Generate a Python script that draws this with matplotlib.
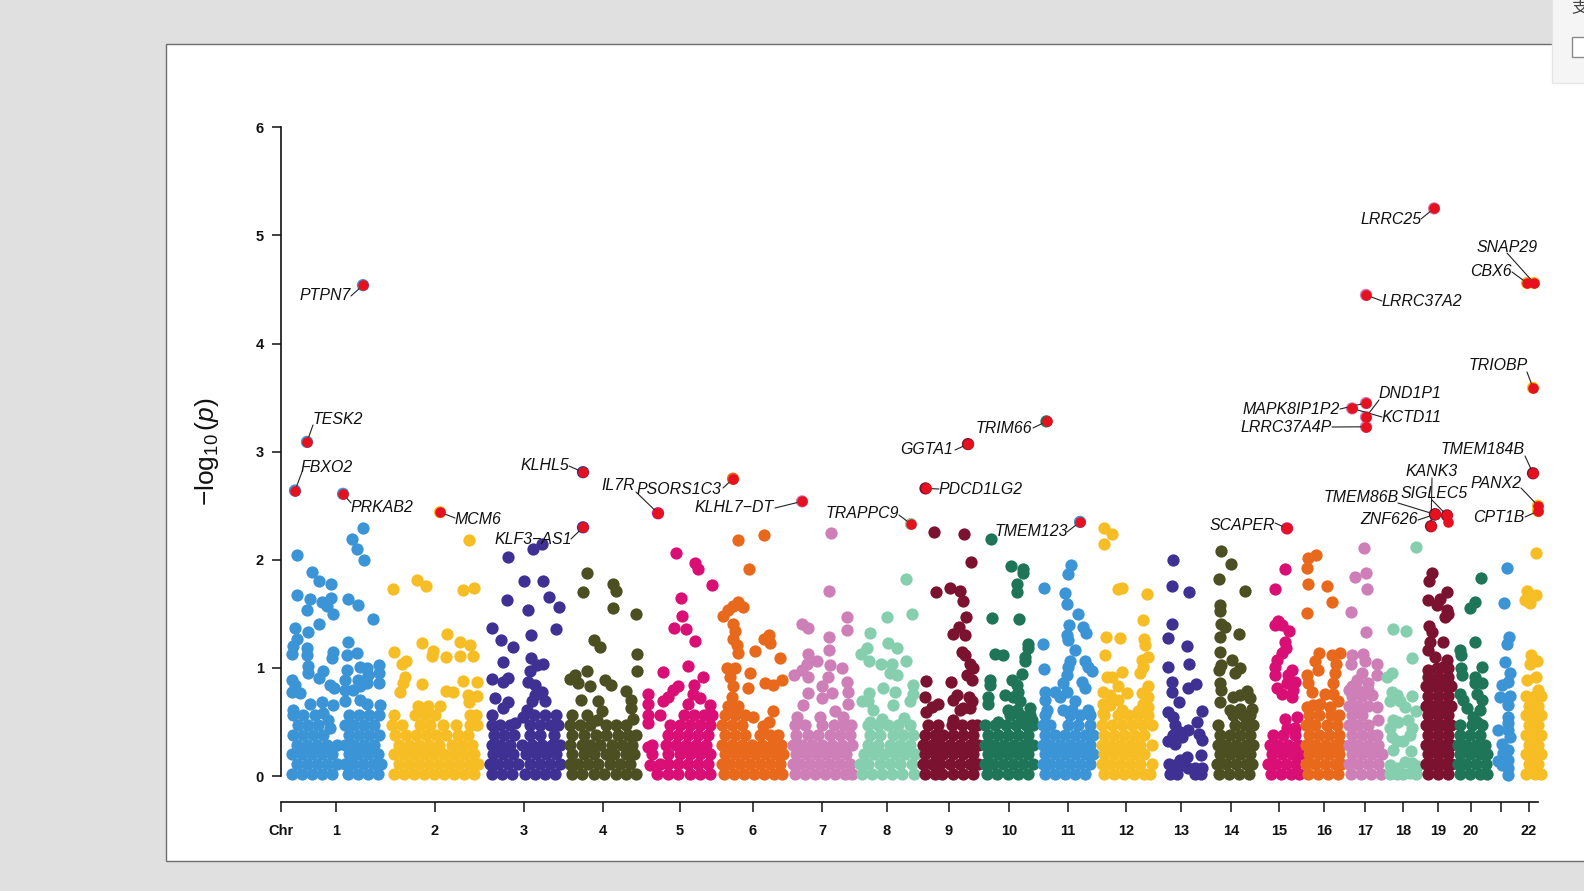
import matplotlib
matplotlib.use("Agg")
import matplotlib.pyplot as plt
from matplotlib.patches import Rectangle

W, H = 1584, 891
plt.rcParams['font.family'] = ['Liberation Sans', 'DejaVu Sans']
plt.rcParams['mathtext.fontset'] = 'custom'
plt.rcParams['mathtext.rm'] = 'Liberation Sans'
plt.rcParams['mathtext.it'] = 'Liberation Sans:italic'

# ---------------- data: (position, -log10 p) ----------------
chr1_pts = [(297,2.04),(312,1.89),(319,1.80),(331,1.78),(297,1.67),(310,1.64),(331,1.65),(322,1.61),(307,1.54),(327,1.57),(333,1.50),(319,1.41),(295,1.37),(308,1.33),(297,1.27),(293,1.20),(307,1.18),(292,1.13),(307,1.12),(308,1.02),(308,.95),(333,1.15),(332,1.09),(323,.97),(319,.91),(292,.89),(295,.84),(292,.78),(300,.77),(330,.84),(334,.81),(363,2.29),(352,2.19),(357,2.10),(364,2.00),(348,1.64),(358,1.58),(373,1.45),(348,1.24),(347,1.12),(357,1.14),(360,1.01),(367,1.00),(379,1.03),(347,.98),(379,.95),(368,.93),(379,.86),(345,.89),(358,.89),(367,.86),(345,.80),(353,.80),(360,.83),(310,.67),(322,.68),(333,.66),(293,.61),(380,.66),(323,.58),(328,.52),(330,.44),(345,.69),(360,.70),(367,.67)]
chr1_base = {.02:[292,302,312,322,332,348,358,368,378],.11:[297,307,317,327,337,345,353,363,373,381],.20:[292,302,312,322,332,349,358,368,378],.29:[297,307,317,327,337,345,354,364,374],.38:[293,303,313,323,349,359,369,379],.47:[298,308,318,345,354,364,374],.56:[293,303,315,349,359,369,379]}
chr2_pts = [(393,1.73),(417,1.81),(426,1.76),(463,1.72),(474,1.74),(469,2.18),(447,1.31),(422,1.23),(460,1.24),(470,1.21),(394,1.15),(433,1.16),(432,1.11),(446,1.10),(460,1.11),(473,1.11),(402,1.04),(406,1.06),(405,.92),(403,.86),(463,.88),(477,.87),(422,.85),(400,.78),(446,.79),(453,.78),(468,.75),(477,.74),(469,.68)]
chr2_base = {.02:[394,404,414,424,434,444,454,464,474],.11:[399,409,419,429,439,449,459,469,478],.20:[394,404,414,424,434,444,454,464,474],.29:[399,409,419,429,439,452,462,472],.38:[395,406,416,426,436,446,458,468],.47:[392,402,420,430,443,456,470,477],.56:[394,415,425,435,470,476],.65:[418,428,440]}
chr3_pts = [(508,2.03),(533,2.10),(542,2.15),(524,1.80),(543,1.80),(507,1.63),(549,1.66),(528,1.54),(559,1.56),(492,1.37),(556,1.36),(531,1.30),(501,1.26),(513,1.19),(531,1.09),(503,1.05),(543,1.04),(537,1.03),(530,.97),(492,.90),(508,.91),(503,.87),(528,.87),(535,.84),(542,.78),(535,.75),(495,.72),(545,.69),(508,.68),(532,.69),(503,.63),(527,.61),(523,.55),(515,.49)]
chr3_base = {.02:[492,502,512,525,535,545,555],.11:[490,498,508,518,530,540,550,560],.20:[493,503,513,526,536,546,556],.29:[492,500,510,522,532,542,552,560],.38:[494,504,514,530,540,554],.47:[492,500,510,530,540,550,558],.56:[492,534,545,556]}
chr4_pts = [(587,1.88),(583,1.70),(613,1.78),(616,1.71),(613,1.55),(636,1.50),(594,1.26),(600,1.19),(637,1.13),(587,.97),(637,.97),(575,.93),(570,.90),(578,.86),(590,.83),(605,.89),(611,.84),(626,.79),(581,.70),(598,.69),(631,.70),(631,.63),(602,.60),(587,.56),(572,.56),(633,.53),(597,.52)]
chr4_base = {.02:[572,582,594,604,616,626,636],.11:[570,578,588,598,610,620,630],.20:[572,584,594,606,614,626,634],.29:[570,582,590,600,612,622,632],.38:[572,584,596,606,618,628,636],.47:[570,580,590,606,616,626]}
chr5_pts = [(676,2.06),(695,1.97),(698,1.91),(712,1.77),(681,1.65),(682,1.48),(674,1.37),(686,1.36),(695,1.25),(688,1.02),(663,.96),(703,.92),(678,.83),(673,.80),(694,.84),(668,.73),(648,.76),(693,.76),(648,.67),(663,.69),(688,.67),(700,.72),(710,.66),(648,.56),(660,.56),(648,.49),(650,.10),(648,.27)]
chr5_base = {.02:[657,668,678,690,700,710],.11:[660,668,678,688,698,708],.20:[652,668,680,690,700,710],.29:[652,666,676,686,696,706],.38:[668,678,688,698,708],.47:[670,680,690,700,710],.56:[684,694,704,712]}
chr6_pts = [(738,2.18),(749,1.91),(764,2.23),(738,1.61),(733,1.57),(743,1.56),(728,1.54),(723,1.48),(733,1.41),(735,1.34),(733,1.27),(737,1.21),(738,1.14),(755,1.16),(727,1.00),(735,1.00),(730,.92),(750,.95),(733,.83),(748,.81),(732,.73),(753,.55),(769,1.30),(764,1.27),(770,1.23),(780,1.09),(765,.86),(773,.84),(782,.89),(773,.60),(769,.50),(763,.46)]
chr6_base = {.02:[724,734,744,754,764,774,782],.11:[722,730,740,750,760,770,780],.20:[725,735,745,755,765,775,783],.29:[722,732,742,752,762,772,781],.38:[725,735,745,760,770,778],.47:[722,732,742],.56:[725,735,745],.65:[728,738]}
chr7_pts = [(831,2.25),(829,1.71),(802,1.41),(808,1.37),(847,1.47),(847,1.35),(829,1.29),(829,1.17),(808,1.13),(817,1.06),(830,1.03),(842,1.00),(807,1.04),(794,.93),(802,.98),(808,.92),(828,.92),(847,.87),(822,.83),(832,.77),(808,.77),(848,.78),(822,.72),(803,.66),(848,.67),(835,.60),(820,.55),(797,.55),(843,.55)]
chr7_base = {.02:[795,805,815,825,835,845,852],.11:[793,800,810,820,830,840,850],.20:[796,806,816,826,836,846],.29:[793,802,812,822,832,842,852],.38:[796,808,818,830,840,850],.47:[795,805,822,834,844,851]}
chr8_pts = [(906,1.82),(887,1.47),(912,1.50),(870,1.32),(888,1.23),(897,1.18),(867,1.18),(861,1.13),(869,1.06),(906,1.06),(881,1.04),(892,1.04),(890,.95),(897,.93),(913,.84),(883,.81),(895,.78),(869,.77),(913,.76),(862,.69),(893,.66),(868,.69),(910,.69),(873,.61),(882,.53),(904,.54),(870,.50)]
chr8_base = {.02:[862,872,882,892,902,914],.11:[860,868,880,890,900,912],.20:[864,874,884,895,905,915],.29:[868,878,890,900,910],.38:[870,880,893,903,913],.47:[868,878,888,898,910]}
chr9_pts = [(934,2.26),(964,2.24),(971,1.98),(936,1.70),(950,1.74),(960,1.71),(963,1.62),(966,1.47),(959,1.38),(953,1.31),(965,1.30),(962,1.15),(965,1.12),(970,1.04),(973,1.00),(967,.93),(972,.89),(926,.88),(951,.87),(925,.73),(957,.75),(953,.70),(969,.73),(972,.69),(938,.67),(932,.64),(926,.59),(963,.63),(970,.63),(953,.52),(960,.61)]
chr9_base = {.02:[925,935,942,953,963,973],.11:[923,932,940,950,960,970,978],.20:[925,935,943,953,963,973],.29:[923,932,940,950,960,970,978],.38:[925,935,943,953,963,973],.47:[928,938,952,962,972,977]}
chr10_pts = [(991,2.19),(1011,1.94),(1023,1.91),(1023,1.88),(1017,1.78),(1017,1.70),(992,1.46),(1019,1.45),(1028,1.22),(1028,1.18),(995,1.13),(1003,1.12),(1025,1.10),(1025,1.06),(1022,.94),(990,.89),(1012,.89),(1017,.84),(990,.84),(1018,.78),(988,.73),(1005,.75),(1013,.73),(988,.67),(1020,.69),(1030,.63),(1008,.61),(1017,.61),(998,.50),(1032,.52),(1023,.55)]
chr10_base = {.02:[987,997,1008,1018,1028],.11:[985,993,1003,1013,1023,1033],.20:[988,998,1008,1018,1028],.29:[985,994,1004,1014,1024,1033],.38:[988,998,1008,1018,1028],.47:[985,995,1006,1016,1026,1033],.56:[1010,1020,1030]}
chr11_pts = [(1071,1.95),(1068,1.87),(1044,1.74),(1065,1.69),(1067,1.59),(1078,1.50),(1069,1.40),(1083,1.38),(1086,1.32),(1067,1.30),(1068,1.26),(1043,1.22),(1075,1.17),(1070,1.06),(1068,1.01),(1044,.99),(1085,1.06),(1088,1.01),(1092,.97),(1067,.93),(1063,.86),(1082,.87),(1085,.81),(1045,.78),(1055,.78),(1067,.78),(1045,.70),(1060,.73),(1075,.69),(1047,.61),(1088,.61),(1063,.61),(1072,.61)]
chr11_base = {.02:[1045,1055,1065,1075,1085],.11:[1043,1050,1060,1070,1080,1090],.20:[1045,1055,1065,1075,1085,1093],.29:[1043,1050,1060,1070,1080,1090],.38:[1045,1055,1065,1075,1085,1093],.47:[1043,1050,1068,1078,1090],.56:[1045,1070,1080,1090]}
chr12_pts = [(1104,2.29),(1112,2.24),(1104,2.15),(1118,1.73),(1122,1.74),(1147,1.68),(1143,1.44),(1106,1.29),(1120,1.28),(1144,1.27),(1145,1.21),(1105,1.12),(1148,1.10),(1142,1.07),(1143,1.01),(1122,.96),(1107,.92),(1112,.92),(1140,.95),(1118,.83),(1148,.83),(1103,.78),(1127,.77),(1142,.77),(1110,.75),(1148,.73),(1118,.70),(1103,.67),(1143,.67),(1110,.66),(1148,.64),(1138,.60),(1122,.61),(1103,.58)]
chr12_base = {.02:[1104,1114,1124,1134,1144,1150],.11:[1102,1110,1120,1130,1140,1152],.20:[1104,1114,1124,1134,1144],.29:[1102,1110,1120,1130,1140,1152],.38:[1104,1114,1124,1134,1144],.47:[1102,1112,1122,1132,1142,1152],.56:[1104,1118,1128,1138,1148]}
chr13_pts = [(1173,2.00),(1172,1.76),(1189,1.70),(1172,1.41),(1168,1.28),(1187,1.20),(1168,1.01),(1189,1.04),(1172,.87),(1172,.78),(1196,.85),(1188,.81),(1179,.68),(1202,.60),(1168,.59),(1173,.55),(1197,.50),(1175,.47),(1188,.43),(1180,.41),(1199,.39),(1173,.38),(1168,.32),(1175,.30),(1182,.36),(1202,.33),(1187,.18),(1201,.19),(1180,.15),(1169,.11),(1175,.10),(1182,.10),(1195,.07),(1202,.07),(1170,.02),(1177,.02),(1195,.02),(1201,.02),(1188,.07)]
chr13_base = {}
chr14_pts = [(1221,2.08),(1231,1.96),(1219,1.82),(1245,1.71),(1220,1.58),(1220,1.53),(1221,1.41),(1225,1.38),(1220,1.29),(1239,1.31),(1220,1.15),(1232,1.07),(1221,1.03),(1219,.98),(1240,1.00),(1235,.95),(1220,.86),(1221,.80),(1247,.79),(1220,.68),(1240,.75),(1233,.73),(1230,.61),(1250,.72)]
chr14_base = {.02:[1219,1229,1239,1249],.11:[1217,1226,1236,1246,1252],.20:[1220,1230,1240,1250],.29:[1218,1226,1236,1246,1253],.38:[1220,1230,1240,1250],.47:[1218,1235,1245,1253],.56:[1233,1243,1250],.62:[1240,1252]}
chr15_pts = [(1285,1.91),(1275,1.73),(1278,1.43),(1282,1.40),(1289,1.34),(1275,1.40),(1285,1.24),(1286,1.18),(1282,1.14),(1277,1.07),(1275,1.01),(1275,.93),(1292,.98),(1288,.93),(1295,.87),(1287,.86),(1277,.81),(1293,.80),(1282,.76),(1292,.73),(1285,.53),(1297,.55),(1295,.44),(1287,.44)]
chr15_base = {.02:[1271,1281,1291,1299],.11:[1268,1276,1286,1296],.20:[1272,1282,1292,1300],.29:[1270,1278,1288,1298],.38:[1273,1283,1295]}
chr16_pts = [(1316,2.04),(1308,2.02),(1307,1.92),(1308,1.78),(1327,1.76),(1332,1.61),(1307,1.51),(1319,1.14),(1340,1.14),(1332,1.12),(1315,1.06),(1336,1.04),(1335,.95),(1307,.93),(1318,.98),(1308,.86),(1333,.86),(1312,.78),(1325,.76),(1333,.76),(1338,.69),(1313,.66),(1307,.64),(1320,.67),(1330,.64)]
chr16_base = {.02:[1308,1318,1328,1338],.11:[1306,1315,1325,1335,1341],.20:[1309,1319,1329,1339],.29:[1306,1315,1325,1335,1341],.38:[1309,1319,1329,1339],.47:[1306,1315,1327,1337],.56:[1309,1319,1331,1339]}
chr17_pts = [(1364,2.11),(1366,1.88),(1355,1.84),(1367,1.73),(1351,1.52),(1366,1.33),(1352,1.12),(1363,1.13),(1351,1.04),(1365,1.06),(1377,1.04),(1377,.93),(1362,.95),(1357,.89),(1352,.83),(1368,.86),(1377,.64),(1378,.52),(1372,.75)]
chr17_base = {.02:[1351,1361,1371,1381],.11:[1349,1358,1368,1378],.20:[1352,1362,1372,1382],.29:[1349,1358,1368,1378],.38:[1352,1362,1372,1377],.47:[1349,1358,1368],.56:[1352,1362],.65:[1349,1358,1368],.74:[1352,1362],.80:[1349,1358,1368]}
chr18_pts = [(1416,2.12),(1393,1.36),(1406,1.34),(1412,1.09),(1392,.95),(1387,.92),(1412,.74),(1392,.78),(1397,.75),(1390,.69),(1400,.69),(1405,.64),(1416,.60),(1393,.52),(1408,.52),(1398,.50),(1390,.44),(1412,.44),(1392,.36),(1410,.38),(1403,.32),(1397,.32),(1393,.24),(1411,.23),(1390,.10),(1397,.07),(1405,.13),(1412,.12),(1417,.09),(1390,.02),(1397,.02),(1403,.02),(1410,.03),(1416,.02)]
chr18_base = {}
chr19_pts = [(1432,1.88),(1429,1.80),(1447,1.70),(1440,1.64),(1428,1.63),(1437,1.58),(1447,1.54),(1448,1.50),(1445,1.47),(1429,1.39),(1432,1.33),(1430,1.24),(1443,1.24),(1428,1.17),(1435,1.10),(1447,1.07),(1428,.98),(1437,1.00),(1443,1.01),(1448,1.0)]
chr19_base = {.02:[1428,1438,1448],.11:[1426,1434,1443,1451],.20:[1428,1438,1448],.29:[1426,1434,1443,1451],.38:[1428,1438,1448],.47:[1426,1434,1443,1451],.56:[1428,1438,1448],.65:[1426,1434,1443,1451],.74:[1428,1438,1448],.83:[1426,1434,1443,1451],.92:[1428,1438,1448]}
chr20_pts = [(1481,1.83),(1475,1.61),(1470,1.55),(1475,1.24),(1460,1.17),(1461,1.12),(1482,1.01),(1461,1.00),(1462,.93),(1475,.92),(1475,.86),(1482,.86),(1460,.76),(1477,.76),(1463,.70),(1482,.70),(1467,.63),(1480,.61),(1473,.55),(1477,.50)]
chr20_base = {.02:[1460,1470,1480,1487],.11:[1458,1466,1476,1486],.20:[1460,1470,1480,1487],.29:[1458,1466,1476,1485],.38:[1460,1470,1480],.47:[1460,1472,1482]}
chr21_pts = [(1507,1.92),(1504,1.60),(1509,1.29),(1507,1.22),(1505,1.05),(1510,.95),(1502,.84),(1508,.87),(1500,.73),(1510,.74),(1508,.66),(1508,.55),(1508,.49),(1498,.43),(1508,.43),(1502,.30),(1510,.36),(1508,.24),(1498,.14),(1508,.15),(1502,.10),(1508,.07),(1508,.01),(1503,.21)]
chr21_base = {}
chr22_pts = [(1536,2.06),(1527,1.71),(1536,1.67),(1525,1.63),(1530,1.60),(1531,1.12),(1537,1.06),(1530,1.04),(1536,.92),(1527,.89),(1538,.80)]
chr22_base = {.02:[1526,1535,1541],.11:[1529,1538],.20:[1526,1535,1541],.29:[1529,1538],.38:[1526,1535,1541],.47:[1529,1538],.56:[1526,1535,1541],.65:[1529,1538],.74:[1526,1535,1541]}

chrom_pts = [chr1_pts,chr2_pts,chr3_pts,chr4_pts,chr5_pts,chr6_pts,chr7_pts,chr8_pts,chr9_pts,chr10_pts,chr11_pts,chr12_pts,chr13_pts,chr14_pts,chr15_pts,chr16_pts,chr17_pts,chr18_pts,chr19_pts,chr20_pts,chr21_pts,chr22_pts]
chrom_base = [chr1_base,chr2_base,chr3_base,chr4_base,chr5_base,chr6_base,chr7_base,chr8_base,chr9_base,chr10_base,chr11_base,chr12_base,chr13_base,chr14_base,chr15_base,chr16_base,chr17_base,chr18_base,chr19_base,chr20_base,chr21_base,chr22_base]

chrom_colors = ['#3B94D6','#F6BE24','#3F3193','#4B4F22','#D90F75','#E8691B','#CE7FB8','#85CFAE','#7A1230','#1F7558',
                '#3B94D6','#F6BE24','#3F3193','#4B4F22','#D90F75','#E8691B','#CE7FB8','#85CFAE','#7A1230','#1F7558','#3B94D6','#F6BE24']

gene_names = ['PTPN7','TESK2','FBXO2','PRKAB2','MCM6','KLHL5','KLF3\u2212AS1','IL7R','PSORS1C3','KLHL7\u2212DT','TRAPPC9','GGTA1','PDCD1LG2','TRIM66','TMEM123','SCAPER','LRRC25','SNAP29','CBX6','LRRC37A2','TRIOBP','MAPK8IP1P2','DND1P1','KCTD11','LRRC37A4P','TMEM184B','PANX2','CPT1B','KANK3','SIGLEC5','TMEM86B','ZNF626']
gene_pos = [363,307,295,343,440,583,583,658,733,802,911,968,925.5,1046.5,1080,1287,1434,1534,1527,1366,1533,1366,1366,1352,1366,1533,1538,1538,1431,1447,1435,1435]
gene_p = [4.54,3.09,2.64,2.61,2.44,2.81,2.30,2.43,2.75,2.54,2.33,3.07,2.66,3.28,2.35,2.29,5.25,4.56,4.56,4.45,3.59,3.45,3.32,3.40,3.23,2.80,2.50,2.45,2.31,2.41,2.42,2.42]
gene_chr = [0,0,0,0,1,2,2,4,5,6,7,8,8,9,10,14,16,21,21,16,21,16,16,16,16,18,21,21,18,18,18,18]
extra_hit = [(1448,2.35)]

tick_pos = [281,336,435,524,603,680,753,822,887,949,1009,1068,1126,1181,1231,1279,1324,1365,1403,1438,1471,1501,1529]
tick_lab = ['Chr','1','2','3','4','5','6','7','8','9','10','11','12','13','14','15','16','17','18','19','20','','22']

# ---------------- label layout (figure pixels): text centre, then line start ----------------
label_xy = [(325,296),(338,419),(327,468),(382,508),(478,520),(545,466),(533,539),(618,485),(679,490),(734,508),(862,514),(927,450),(981,489),(1004,428),(1031,532),(1242,525),(1391,219),(1507,248),(1491,272),(1422,301),(1498,365),(1291,409),(1410,394),(1412,417),(1286,427),(1483,450),(1496,483),(1499,517),(1432,472),(1434,494),(1361,497),(1389,520)]
line_xy = [(351,296),(313,425),(302,472),(351,503),(455,518),(569,466),(571,539),(636,492),(723,488),(775,508),(899,515),(955,450),(939,489),(1033,428),(1067,532),(1275,523),(1421,219),(1507,253),(1512,272),(1382,301),(1527,372),(1340,409),(1379,400),(1382,417),(1332,427),(1525,456),(1521,488),(1525,517),(1432,478),(1432,500),(1398,503),(1418,520)]

# ---------------- figure ----------------
fig = plt.figure(figsize=(W/100, H/100), dpi=100, facecolor='#E0E0E0')
fig.add_artist(Rectangle((165.5/W, (H-860.5)/H), (W-165.5+20)/W, (860.5-43.5)/H, transform=fig.transFigure,
                         facecolor='white', edgecolor='#6E6E6E', lw=1.0, zorder=-5))

ax = fig.add_axes([281/W, (H-776)/H, (1538-281)/W, (776-127.3)/H], zorder=1)
ax.set_facecolor('none')
ax.set_xlim(281, 1538)
ax.set_ylim(0, 6)
for s in ('top', 'right'):
    ax.spines[s].set_visible(False)
ax.spines['bottom'].set_position(('outward', 18.7))
for s in ('left', 'bottom'):
    ax.spines[s].set_linewidth(1.2)
    ax.spines[s].set_color('#111111')
ax.set_yticks(range(7))
ax.set_xticks(tick_pos)
ax.set_xticklabels(tick_lab, fontweight='bold', fontsize=10.5, color='#111111')
for lab in ax.get_yticklabels():
    lab.set_fontweight('bold'); lab.set_fontsize(10.5); lab.set_color('#111111')
ax.tick_params(axis='x', length=7.2, width=1.1, pad=8.5, color='#111111')
ax.tick_params(axis='y', length=6.5, width=1.1, pad=6, color='#111111')

ax.axhline(0, color='#5A2020', lw=0.6, ls=(0, (4, 4)), zorder=1)

DOT = 78
for pts, base, col in zip(chrom_pts, chrom_base, chrom_colors):
    xs = [p[0] for p in pts]
    ys = [p[1] for p in pts]
    for y, row in base.items():
        xs += row
        ys += [y] * len(row)
    ax.scatter(xs, ys, s=DOT, color=col, linewidths=0, clip_on=False, zorder=2)

ax.scatter(gene_pos, gene_p, s=DOT, color=[chrom_colors[i] for i in gene_chr], linewidths=0, clip_on=False, zorder=3)
ax.scatter(gene_pos + [p[0] for p in extra_hit], gene_p + [p[1] for p in extra_hit], s=58,
           color='#E6101E', linewidths=0, clip_on=False, zorder=4)

to_fig = lambda px, py: (px/W, (H-py)/H)
for name, gx, gy, (tx, ty), (lx, ly) in zip(gene_names, gene_pos, gene_p, label_xy, line_xy):
    ax.annotate('', xy=(gx, gy), xycoords='data', xytext=to_fig(lx, ly), textcoords='figure fraction',
                arrowprops=dict(arrowstyle='-', color='#222222', lw=0.8, shrinkA=0, shrinkB=0), zorder=3.5)
    fig.text(*to_fig(tx, ty), name, ha='center', va='center', fontsize=11.4, style='italic', color='#111111', zorder=10)

fig.text(207/W, (H-452)/H, r'$-\log_{10}(p)$', rotation=90, ha='center', va='center', fontsize=19, color='#111111', zorder=10)

# dialog fragment in the top right corner of the screenshot
fig.add_artist(Rectangle((1552/W, (H-83)/H), 40/W, 90/H, transform=fig.transFigure,
                         facecolor='#F5F5F5', edgecolor='#E6E6E6', lw=1, zorder=5))
fig.add_artist(Rectangle((1571.5/W, (H-56.5)/H), 20/W, 19/H, transform=fig.transFigure,
                         facecolor='white', edgecolor='#8A8A8A', lw=1, zorder=6))
fig.text(1571/W, (H-8)/H, '\u652f', family=['Noto Sans CJK SC', 'DejaVu Sans'], fontsize=12, color='#444444', ha='left', va='center', zorder=7)

fig.savefig('out.png', dpi=100, facecolor=fig.get_facecolor())
